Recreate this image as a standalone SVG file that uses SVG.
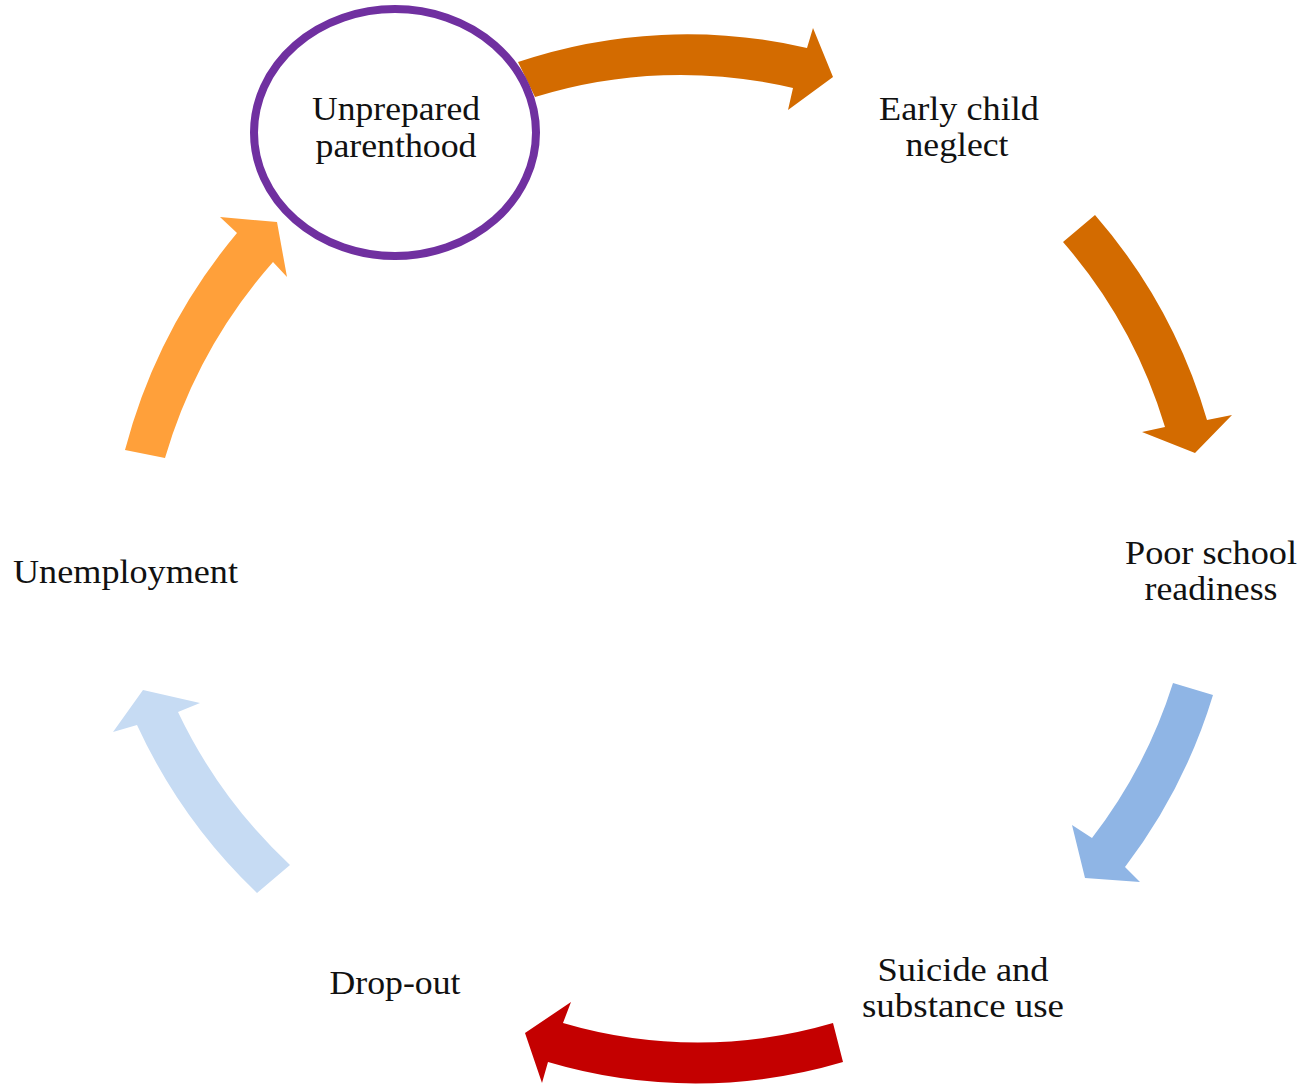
<svg xmlns="http://www.w3.org/2000/svg" width="1305" height="1084" viewBox="0 0 1305 1084">
<style>
.lbl{font-family:"Liberation Serif","Times New Roman",serif;font-size:33px;fill:#111;text-anchor:middle}
.a1{fill:#D36B00}
.a3{fill:#8FB5E5}
.a4{fill:#C40000}
.a5{fill:#C6DBF3}
.a6{fill:#FFA03A}
</style>
<rect width="1305" height="1084" fill="#fff"/>
<g id="connectors">
<path class="a1" d="M518,62 A530,530 0 0 1 807,48 L813,28 L833,77 L788,110 L793,88 A490,490 0 0 0 535,97 Z"/>
<path class="a1" d="M1095,215 A545,545 0 0 1 1207,420 L1232,415 L1195,453 L1142,432 L1165,427 A502,502 0 0 0 1063,242 Z"/>
<path class="a3" d="M1213,695 A544,544 0 0 1 1125,867 L1140,882 L1085,878 L1072,825 L1092,838 A500,500 0 0 0 1173,683 Z"/>
<path class="a4" d="M843,1062 A518,518 0 0 1 548,1062 L542,1083 L525,1033 L571,1002 L563,1023 A478,478 0 0 0 833,1023 Z"/>
<path class="a5" d="M257,893 A550,550 0 0 1 137,725 L113,732 L143,690 L200,703 L178,712 A508,508 0 0 0 290,865 Z"/>
<path class="a6" d="M125,450 A560,560 0 0 1 237,233 L220,217 L277,222 L287,277 L273,262 A516,516 0 0 0 165,458 Z"/>
</g>
<g id="node-unprepared">
<ellipse cx="395" cy="132.5" rx="141" ry="123.5" fill="#fff" stroke="#7030A0" stroke-width="8"/>
<text class="lbl" x="396" y="120" textLength="168" lengthAdjust="spacingAndGlyphs">Unprepared</text>
<text class="lbl" x="396" y="157" textLength="161" lengthAdjust="spacingAndGlyphs">parenthood</text>
</g>
<g id="node-neglect">
<text class="lbl" x="959" y="120" textLength="160" lengthAdjust="spacingAndGlyphs">Early child</text>
<text class="lbl" x="957" y="156" textLength="103" lengthAdjust="spacingAndGlyphs">neglect</text>
</g>
<g id="node-school">
<text class="lbl" x="1211" y="564" textLength="172" lengthAdjust="spacingAndGlyphs">Poor school</text>
<text class="lbl" x="1211" y="600" textLength="133" lengthAdjust="spacingAndGlyphs">readiness</text>
</g>
<g id="node-suicide">
<text class="lbl" x="963" y="981" textLength="171" lengthAdjust="spacingAndGlyphs">Suicide and</text>
<text class="lbl" x="963" y="1017" textLength="202" lengthAdjust="spacingAndGlyphs">substance use</text>
</g>
<g id="node-dropout">
<text class="lbl" x="395" y="994" textLength="131" lengthAdjust="spacingAndGlyphs">Drop-out</text>
</g>
<g id="node-unemployment">
<text class="lbl" x="125.5" y="583" textLength="225" lengthAdjust="spacingAndGlyphs">Unemployment</text>
</g>
</svg>
